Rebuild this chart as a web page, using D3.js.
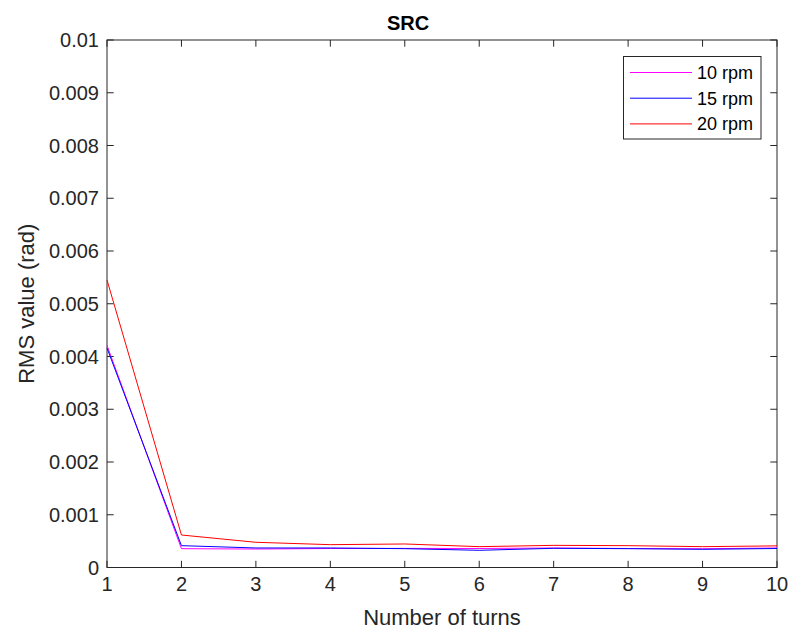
<!DOCTYPE html>
<html>
<head>
<meta charset="utf-8">
<script src="https://cdn.jsdelivr.net/npm/d3@7"></script>
<style>
  body { margin: 0; background: #fff; }
  svg { display: block; font-family: "Liberation Sans", Arial, sans-serif; }
</style>
</head>
<body>
<svg id="chart" width="788" height="630"></svg>
<script>
// RMS tracking error per turn, for three spindle speeds
const turns = [1, 2, 3, 4, 5, 6, 7, 8, 9, 10];
const rpm10 = [0.00421, 0.000357, 0.00035, 0.00036, 0.000362, 0.00036, 0.00037, 0.00036, 0.000355, 0.00037];
const rpm15 = [0.00416, 0.000414, 0.00037, 0.00037, 0.000357, 0.000326, 0.000364, 0.000357, 0.000345, 0.00036];
const rpm20 = [0.00545, 0.000616, 0.000478, 0.000433, 0.000446, 0.000395, 0.00042, 0.000414, 0.000395, 0.00041];
const seriesNames = ["10 rpm", "15 rpm", "20 rpm"];
const seriesColors = ["#ff00ff", "#0000ff", "#ff0000"];
const xTicks = [1, 2, 3, 4, 5, 6, 7, 8, 9, 10];
const yTicks = [0, 0.001, 0.002, 0.003, 0.004, 0.005, 0.006, 0.007, 0.008, 0.009, 0.01];

const series = [rpm10, rpm15, rpm20].map((vals, i) => ({
  name: seriesNames[i], color: seriesColors[i],
  points: vals.map((v, j) => [turns[j], v])
}));

const svg = d3.select("#chart");
const m = { left: 107, right: 777, top: 40, bottom: 567.5 };
const x = d3.scaleLinear().domain([1, 10]).range([m.left, m.right]);
const y = d3.scaleLinear().domain([0, 0.01]).range([m.bottom, m.top]);
const axisColor = "#262626";
const tickLen = 6.7;

// axes box
svg.append("rect")
  .attr("x", m.left).attr("y", m.top)
  .attr("width", m.right - m.left).attr("height", m.bottom - m.top)
  .attr("fill", "none").attr("stroke", axisColor).attr("stroke-width", 1);

// inward ticks on all four sides
const tickG = svg.append("g").attr("stroke", axisColor).attr("stroke-width", 1);
xTicks.forEach(t => {
  tickG.append("line").attr("x1", x(t)).attr("x2", x(t)).attr("y1", m.bottom).attr("y2", m.bottom - tickLen);
  tickG.append("line").attr("x1", x(t)).attr("x2", x(t)).attr("y1", m.top).attr("y2", m.top + tickLen);
});
yTicks.forEach(t => {
  tickG.append("line").attr("x1", m.left).attr("x2", m.left + tickLen).attr("y1", y(t)).attr("y2", y(t));
  tickG.append("line").attr("x1", m.right).attr("x2", m.right - tickLen).attr("y1", y(t)).attr("y2", y(t));
});

// tick labels
const fmtY = d => d === 0 ? "0" : d3.format(".3~f")(d);
svg.append("g").selectAll("text").data(xTicks).join("text")
  .attr("x", d => x(d)).attr("y", m.bottom + 23)
  .attr("text-anchor", "middle").attr("font-size", 20).attr("fill", axisColor)
  .text(d => d);
svg.append("g").selectAll("text").data(yTicks).join("text")
  .attr("x", m.left - 8).attr("y", d => y(d)).attr("dy", "0.35em")
  .attr("text-anchor", "end").attr("font-size", 20).attr("fill", axisColor)
  .text(fmtY);

// axis labels and title
svg.append("text")
  .attr("x", (m.left + m.right) / 2).attr("y", 625)
  .attr("text-anchor", "middle").attr("font-size", 22).attr("fill", axisColor)
  .text("Number of turns");
svg.append("text")
  .attr("transform", `translate(34,${(m.top + m.bottom) / 2}) rotate(-90)`)
  .attr("text-anchor", "middle").attr("font-size", 22).attr("fill", axisColor)
  .text("RMS value (rad)");
svg.append("text")
  .attr("x", (m.left + m.right) / 2 - 34).attr("y", 30)
  .attr("text-anchor", "middle").attr("font-size", 20).attr("font-weight", "bold").attr("fill", "#000")
  .text("SRC");

// data lines
const line = d3.line().x(d => x(d[0])).y(d => y(d[1]));
svg.append("g").selectAll("path").data(series).join("path")
  .attr("d", d => line(d.points))
  .attr("fill", "none").attr("stroke", d => d.color).attr("stroke-width", 1);

// legend
const lg = svg.append("g");
lg.append("rect")
  .attr("x", 623.5).attr("y", 56.5).attr("width", 137.5).attr("height", 82.5)
  .attr("fill", "#fff").attr("stroke", "#262626").attr("stroke-width", 1);
series.forEach((s, i) => {
  const yy = 72.5 + i * 25.7;
  lg.append("line").attr("x1", 630).attr("x2", 692).attr("y1", yy).attr("y2", yy)
    .attr("stroke", s.color).attr("stroke-width", 1);
  lg.append("text").attr("x", 697).attr("y", yy).attr("dy", "0.35em")
    .attr("font-size", 18).attr("fill", "#000").text(s.name);
});
</script>
</body>
</html>
